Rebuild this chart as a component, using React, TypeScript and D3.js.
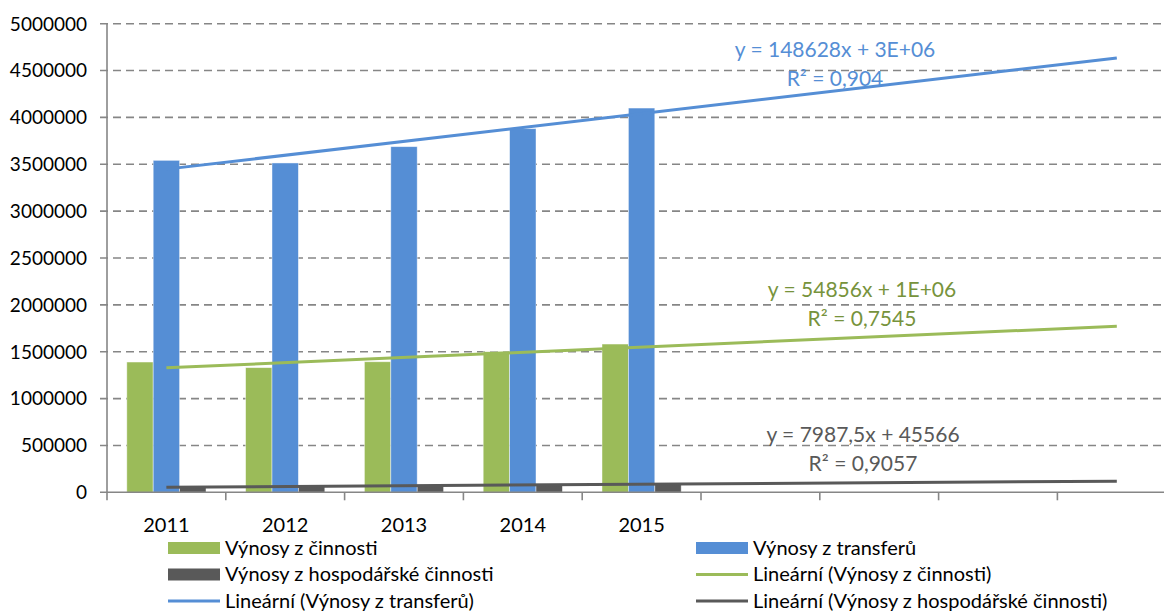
import React from "react";
import * as d3 from "d3";

// data
const years = ["2011", "2012", "2013", "2014", "2015"];
const forecastPeriods = 4;
const vynosyCinnosti = [1390000, 1330000, 1393000, 1500000, 1582000];
const vynosyTransferu = [3542000, 3514000, 3688000, 3880000, 4100000];
const vynosyHospodarske = [52000, 63000, 71000, 75000, 87000];
const yTicks = [0, 500000, 1000000, 1500000, 2000000, 2500000, 3000000, 3500000, 4000000, 4500000, 5000000];

const series = [
  { key: "cin", name: "Výnosy z činnosti", values: vynosyCinnosti, color: "#9BBB59" },
  { key: "tra", name: "Výnosy z transferů", values: vynosyTransferu, color: "#558ED5" },
  { key: "hos", name: "Výnosy z hospodářské činnosti", values: vynosyHospodarske, color: "#595959" },
];

const trendLabels = [
  { key: "tra", eq: "y = 148628x + 3E+06", r2: "R² = 0,904", color: "#558ED5", x: 835, y: 49 },
  { key: "cin", eq: "y = 54856x + 1E+06", r2: "R² = 0,7545", color: "#77933C", x: 862, y: 289 },
  { key: "hos", eq: "y = 7987,5x + 45566", r2: "R² = 0,9057", color: "#595959", x: 863, y: 434 },
];

const legendItems = [
  { name: "Výnosy z činnosti", color: "#9BBB59", type: "bar" },
  { name: "Výnosy z transferů", color: "#558ED5", type: "bar" },
  { name: "Výnosy z hospodářské činnosti", color: "#595959", type: "bar" },
  { name: "Lineární (Výnosy z činnosti)", color: "#9BBB59", type: "line" },
  { name: "Lineární (Výnosy z transferů)", color: "#558ED5", type: "line" },
  { name: "Lineární (Výnosy z hospodářské činnosti)", color: "#595959", type: "line" },
];

const W = 1164;
const H = 612;
const FONT = "Lato, 'Noto Sans', sans-serif";

// least squares over x = 1..n (Excel trendline on a category axis)
function linFit(vals: number[]) {
  const xs = vals.map((_, i) => i + 1);
  const mx = d3.mean(xs)!;
  const my = d3.mean(vals)!;
  const num = d3.sum(xs, (x, i) => (x - mx) * (vals[i] - my));
  const den = d3.sum(xs, (x) => (x - mx) ** 2);
  const slope = num / den;
  return { slope, intercept: my - slope * mx };
}

export default function App() {
  const left = 107;
  const step = 118.8;
  const nCats = years.length + forecastPeriods;
  const cats = d3.range(1, nCats + 1);

  const x = d3.scaleBand<number>().domain(cats).range([left, left + step * nCats]);
  const x1 = d3
    .scaleBand<string>()
    .domain(series.map((s) => s.key))
    .range([0, x.bandwidth()])
    .paddingInner(0)
    .paddingOuter(0.75);
  const y = d3.scaleLinear().domain([0, 5000000]).range([492.3, 23.7]);

  const cx = (i: number) => x(i)! + x.bandwidth() / 2;
  const axisColor = "#868686";
  const bottom = y(0);

  return (
    <svg
      width={W}
      height={H}
      style={{ position: "absolute", left: 0, top: 0, background: "#fff" }}
      fontFamily={FONT}
    >
      {/* gridlines */}
      {yTicks.filter((t) => t > 0).map((t) => (
        <line
          key={t}
          x1={left - 7}
          x2={W}
          y1={y(t)}
          y2={y(t)}
          stroke={axisColor}
          strokeWidth={1.6}
          strokeDasharray="8,5"
        />
      ))}

      {/* y labels */}
      {yTicks.map((t) => (
        <text key={t} x={87} y={y(t)} dy="0.36em" textAnchor="end" fontSize={19} fill="#000">
          {t}
        </text>
      ))}

      {/* bars */}
      {series.map((s) =>
        s.values.map((v, i) => (
          <rect
            key={s.key + i}
            x={x(i + 1)! + x1(s.key)!}
            width={x1.bandwidth()}
            y={y(v)}
            height={bottom - y(v)}
            fill={s.color}
            stroke="#ffffff"
            strokeOpacity={0.55}
            strokeWidth={0.8}
          />
        ))
      )}

      {/* axes */}
      <line x1={left} x2={left} y1={y(5000000)} y2={bottom + 8} stroke={axisColor} strokeWidth={1.6} />
      <line x1={left - 7} x2={W} y1={bottom} y2={bottom} stroke={axisColor} strokeWidth={1.6} />
      {cats.map((c) => (
        <line
          key={c}
          x1={x(c)! + x.bandwidth()}
          x2={x(c)! + x.bandwidth()}
          y1={bottom}
          y2={bottom + 8}
          stroke={axisColor}
          strokeWidth={1.6}
        />
      ))}

      {/* trend lines, forecast 4 periods forward */}
      {series.map((s) => {
        const fit = linFit(s.values);
        const pts: [number, number][] = [1, nCats].map((i) => [cx(i), y(fit.intercept + fit.slope * i)]);
        return <path key={s.key} d={d3.line()(pts)!} stroke={s.color} strokeWidth={3} fill="none" />;
      })}

      {/* x labels */}
      {years.map((yr, i) => (
        <text key={yr} x={cx(i + 1)} y={524.5} dy="0.36em" textAnchor="middle" fontSize={20} fill="#000">
          {yr}
        </text>
      ))}

      {/* trend equations */}
      {trendLabels.map((t) => (
        <g key={t.key} fill={t.color} fontSize={21} textAnchor="middle">
          <text x={t.x} y={t.y} dy="0.36em">
            {t.eq}
          </text>
          <text x={t.x} y={t.y + 29} dy="0.36em">
            {t.r2}
          </text>
        </g>
      ))}

      {/* legend */}
      {legendItems.map((item, i) => {
        const col = i % 2;
        const row = Math.floor(i / 2);
        const lx = col === 0 ? 168 : 696;
        const ly = 548 + row * 26.5;
        return (
          <g key={item.name}>
            {item.type === "bar" ? (
              <rect x={lx} y={ly - 6} width={52} height={12} fill={item.color} />
            ) : (
              <line x1={lx} x2={lx + 52} y1={ly} y2={ly} stroke={item.color} strokeWidth={3} />
            )}
            <text x={lx + 57} y={ly} dy="0.34em" fontSize={20} fill="#000">
              {item.name}
            </text>
          </g>
        );
      })}
    </svg>
  );
}
